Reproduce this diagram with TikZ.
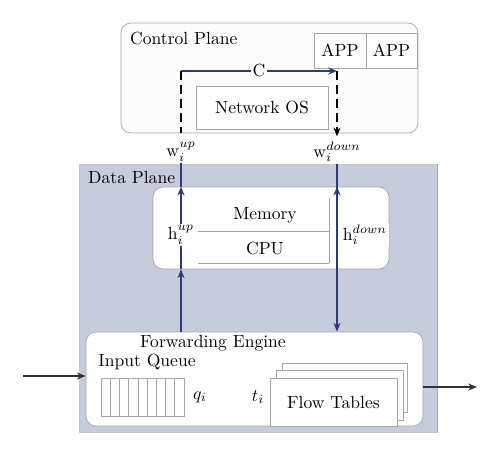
\documentclass[tikz,border=0pt]{standalone}
\usetikzlibrary{arrows.meta}
\definecolor{navy}{HTML}{2E3A78}
\definecolor{planefill}{HTML}{C7CCDD}
\begin{document}
\begin{tikzpicture}[x=0.02cm, y=-0.02cm, >={Stealth[length=5pt,width=4pt]},
    box/.style={draw=gray!70, fill=white, rounded corners=0.2cm, inner sep=0pt},
    part/.style={draw=gray!70, fill=white, inner sep=0pt},
    lbl/.style={fill=white, inner sep=1pt},
    link/.style={navy, line width=0.8pt},
    dashline/.style={line width=1pt, dash pattern=on 5pt off 3pt}]
        \useasboundingbox (0,0) rectangle (500,456);

        % control plane
        \node[box, fill=gray!2, minimum width=5.94cm, minimum height=2.2cm] (cp) at (269.5,78) {};
        \node[anchor=north west] (cpt) at (124,26) {Control Plane};
        \node[part, minimum width=1.04cm, minimum height=0.7cm] (app1) at (340,50.5) {APP};
        \node[part, minimum width=1.02cm, minimum height=0.7cm] (app2) at (391.5,50.5) {APP};
        \node[part, minimum width=2.64cm, minimum height=0.86cm] (nos) at (262,107.5) {Network OS};

        % data plane
        \node[draw=navy!30, fill=planefill, minimum width=7.16cm, minimum height=5.36cm] (dp) at (258,298) {};
        \draw[navy!45] (dp.north east) -- (dp.south east);
        \node[anchor=north west] (dpt) at (82,165) {Data Plane};
        \node[box, minimum width=4.72cm, minimum height=1.64cm] (mem) at (271,228) {};
        \node (memt) at (265,215) {Memory};
        \node (cpu) at (265,248) {CPU};
        \draw[gray!70] (198,231) -- (329,231) (198,263) -- (329,263) (329,198) -- (329,263);

        \node[box, minimum width=6.74cm, minimum height=1.88cm] (fe) at (254.5,379) {};
        \node (fet) at (213,343) {Forwarding Engine};
        \node (iq) at (147,362) {Input Queue};
        \draw[gray!70] (101,378) rectangle (184,416);
        \foreach \i in {1,...,8}
            \draw[gray!70] (101+\i*9.22,378) -- (101+\i*9.22,416);
        \node[lbl] (q) at (200,397) {$q_i$};
        \node[lbl] (t) at (258,397) {$t_i$};
        \draw[part] (282,363) rectangle (407,412);
        \draw[part] (276,370) rectangle (403,420);
        \node[part, minimum width=2.54cm, minimum height=0.96cm] (ft) at (333.5,402) {Flow Tables};

        % links
        \node[lbl] (wu) at (181,152) {$\mathrm{w}_i^{up}$};
        \node[lbl] (wd) at (337,152) {$\mathrm{w}_i^{down}$};
        \node[lbl] (hu) at (181,235) {$\mathrm{h}_i^{up}$};
        \node[lbl] (hd) at (365,235) {$\mathrm{h}_i^{down}$};
        \coordinate (cl) at (181,71);
        \coordinate (cr) at (337,71);

        \draw[link, ->] (cl) -- node[fill=gray!2, inner sep=1pt, text=black] {C} (cr);
        \draw[dashline] (cl) -- (cl |- cp.south);
        \draw[dashline, ->] (cr) -- ([yshift=-0.06cm]cr |- cp.south);
        \draw[link] (wu.south) -- (wu |- mem.north);
        \draw[link, ->] (hu.north) -- (wu |- mem.north);
        \draw[link] (hu.south) -- (wu |- mem.south);
        \draw[link, ->] (wu |- fe.north) -- (wu |- mem.south);
        \draw[link, ->] (wd.south) -- (wd |- fe.north);
        \draw[link, ->] (wd |- mem.south) -- (wd |- mem.north);

        \coordinate (in) at (23,376);
        \coordinate (out) at (477,387);
        \draw[->, thick, gray!40!black] (in) -- (in -| fe.west);
        \draw[->, thick, gray!40!black] (out -| fe.east) -- (out);
    \end{tikzpicture}
\end{document}
